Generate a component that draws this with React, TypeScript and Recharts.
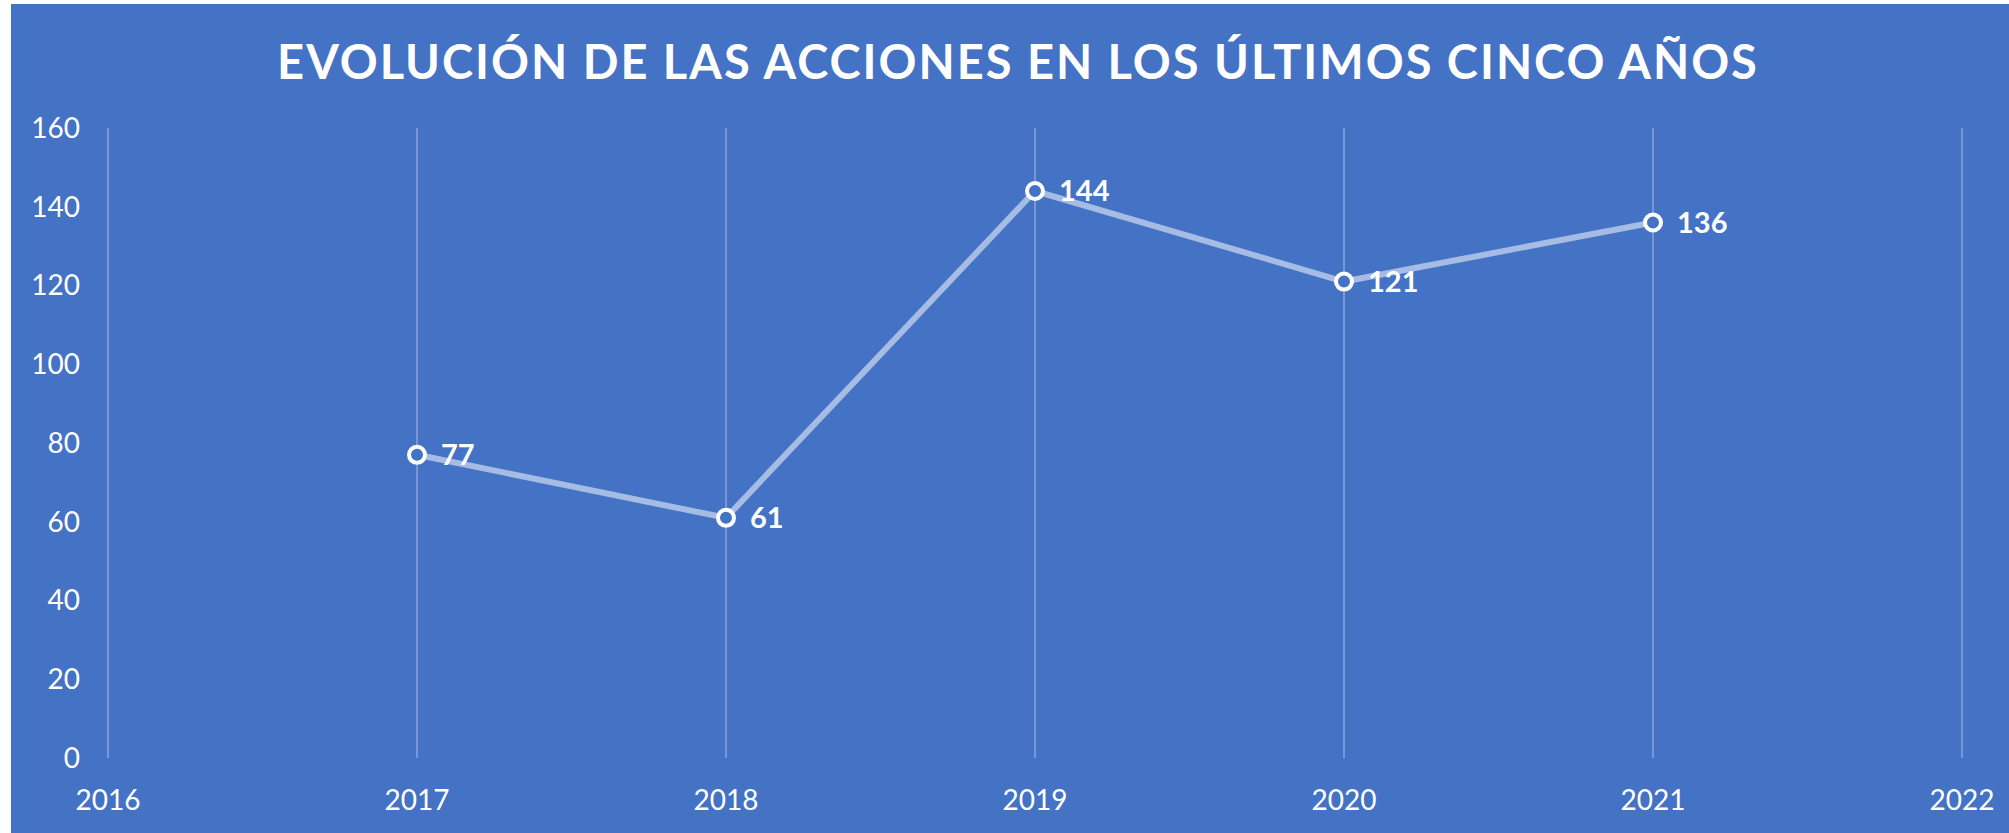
import { LineChart, Line, XAxis, YAxis, CartesianGrid, LabelList } from 'recharts';

const years = [2017, 2018, 2019, 2020, 2021];
const prices = [77, 61, 144, 121, 136];
const xTicks = [2016, 2017, 2018, 2019, 2020, 2021, 2022];
const yTicks = [0, 20, 40, 60, 80, 100, 120, 140, 160];
const title = 'EVOLUCIÓN DE LAS ACCIONES EN LOS ÚLTIMOS CINCO AÑOS';

const data = years.map((year, i) => ({ year, value: prices[i] }));

const BG = '#4472C4';
const FONT = 'Lato, "Open Sans", sans-serif';

export default function App() {
  return (
    <div style={{ position: 'fixed', left: 0, top: 0, width: 2009, height: 833, background: '#fff' }}>
      <div
        style={{
          position: 'absolute',
          left: 11,
          top: 4,
          width: 1998,
          height: 829,
          background: BG,
          fontFamily: FONT,
        }}
      >
        <div
          style={{
            position: 'absolute',
            left: 16,
            right: 0,
            top: 23,
            textAlign: 'center',
            color: '#fff',
            fontWeight: 700,
            fontSize: 47,
            letterSpacing: 2,
            lineHeight: '68px',
          }}
        >
          {title}
        </div>
        <LineChart
          width={1998}
          height={829}
          data={data}
          margin={{ top: 124, right: 47, left: 37, bottom: 35 }}
        >
          <CartesianGrid horizontal={false} stroke="#8AA5DA" strokeWidth={1.5} />
          <XAxis
            dataKey="year"
            type="number"
            domain={[2016, 2022]}
            ticks={xTicks}
            axisLine={false}
            tickLine={false}
            tickSize={0}
            tickMargin={32}
            height={40}
            tick={{ fill: '#fff', fontSize: 28, fontFamily: FONT }}
          />
          <YAxis
            domain={[0, 160]}
            ticks={yTicks}
            axisLine={false}
            tickLine={false}
            tickSize={0}
            tickMargin={28}
            width={60}
            tick={{ fill: '#fff', fontSize: 28, fontFamily: FONT }}
          />
          <Line
            dataKey="value"
            stroke="#A6BCE4"
            strokeWidth={6}
            dot={{ r: 8, fill: BG, stroke: '#fff', strokeWidth: 4 }}
            isAnimationActive={false}
          >
            <LabelList
              dataKey="value"
              position="right"
              offset={24}
              fill="#fff"
              fontSize={29}
              fontWeight={700}
              fontFamily={FONT}
            />
          </Line>
        </LineChart>
      </div>
    </div>
  );
}
